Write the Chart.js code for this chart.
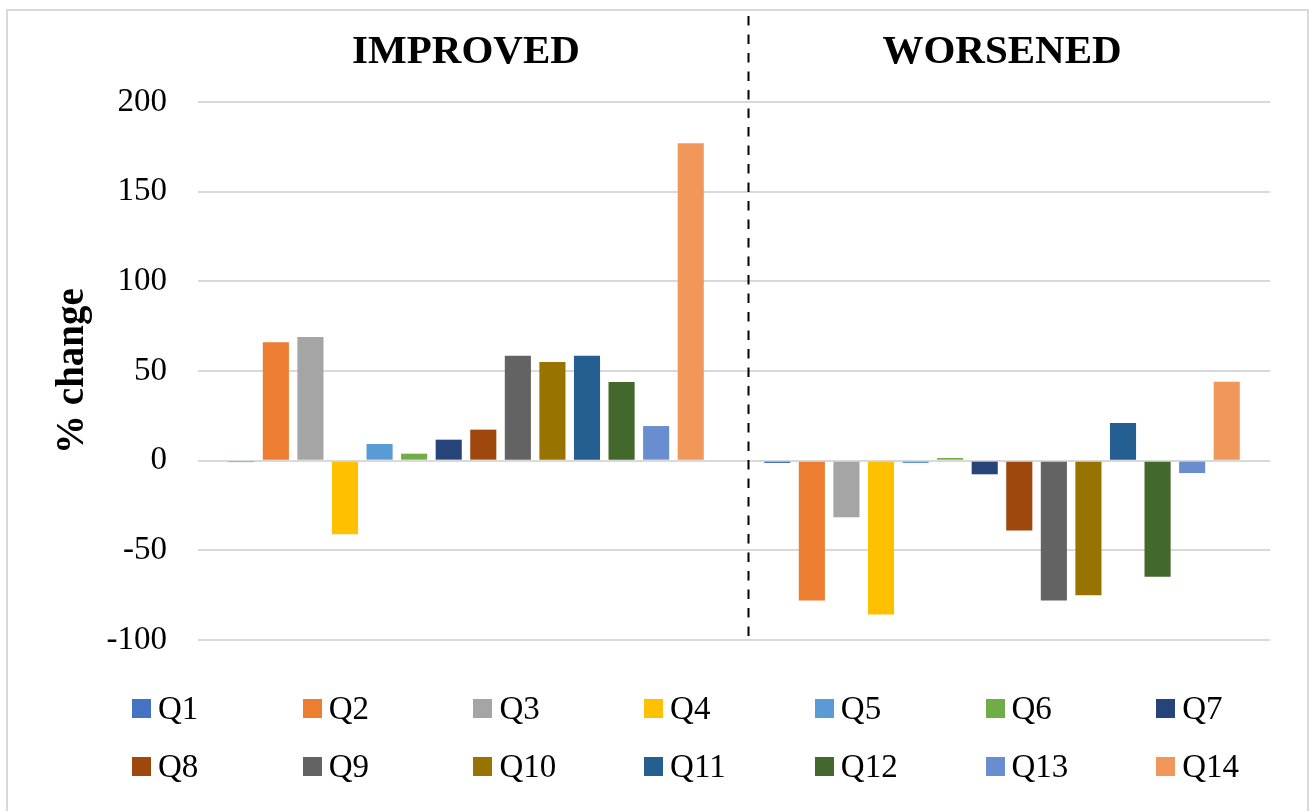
<!DOCTYPE html>
<html>
<head>
<meta charset="utf-8">
<script src="https://cdn.jsdelivr.net/npm/chart.js@4/dist/chart.umd.min.js"></script>
<style>
  html, body { margin: 0; padding: 0; background: #fff; }
  #wrap { position: relative; width: 1309px; height: 811px; overflow: hidden; }
  #frame { position: absolute; left: 6px; top: 9px; width: 1303px; height: 820px; box-sizing: border-box; border: 2px solid #d9d9d9; }
  canvas { position: absolute; left: 0; top: 0; }
  .lg { position: absolute; font-family: "Liberation Serif", "Times New Roman", serif; font-size: 33px; line-height: 33px; color: #000; white-space: nowrap; }
  .lg i { position: absolute; left: 0; width: 19px; height: 19px; }
  .lg span { position: absolute; left: 26px; top: 0; }
</style>
</head>
<body>
<div id="wrap">
  <div id="frame"></div>
  <canvas id="c" width="1309" height="811"></canvas>
  <div id="legend"></div>
</div>
<script>
const categories = ["IMPROVED", "WORSENED"];
const seriesNames = ["Q1","Q2","Q3","Q4","Q5","Q6","Q7","Q8","Q9","Q10","Q11","Q12","Q13","Q14"];
const improved = [-0.8, 66, 69, -41, 9.3, 3.9, 11.7, 17.3, 58.5, 55, 58.5, 43.9, 19.3, 177];
const worsened = [-1.3, -78, -31.6, -85.8, -1.3, 1.5, -7.6, -39, -78, -75, 21, -64.8, -6.9, 44];
const colors = ["#4472C4","#ED7D31","#A5A5A5","#FFC000","#5B9BD5","#70AD47","#264478","#9E480E","#636363","#997300","#255E91","#43682B","#698ED0","#F1975A"];
const yTicks = [-100, -50, 0, 50, 100, 150, 200];

const datasets = seriesNames.map((n, i) => ({
  label: n,
  data: [improved[i], worsened[i]],
  backgroundColor: colors[i],
  borderWidth: 0,
  categoryPercentage: 0.903,
  barPercentage: 0.755
}));

const dividerPlugin = {
  id: 'divider',
  afterDraw(chart) {
    const xs = chart.scales.x;
    const boundary = (xs.getPixelForTick(0) + xs.getPixelForTick(1)) / 2;
    const x = Math.round(boundary + 15) - 0.5;
    const ctx = chart.ctx;
    ctx.save();
    ctx.strokeStyle = '#000';
    ctx.lineWidth = 2;
    ctx.setLineDash([9.5, 9]);
    ctx.beginPath();
    ctx.moveTo(x, 16);
    ctx.lineTo(x, chart.chartArea.bottom - 4);
    ctx.stroke();
    ctx.restore();
  }
};

const serif = "'Liberation Serif', 'Times New Roman', serif";

new Chart(document.getElementById('c'), {
  type: 'bar',
  data: { labels: categories, datasets },
  plugins: [dividerPlugin],
  options: {
    responsive: false,
    devicePixelRatio: 1,
    animation: false,
    layout: { padding: { left: 0, right: 39, top: 0, bottom: 171 } },
    plugins: { legend: { display: false }, tooltip: { enabled: false } },
    scales: {
      x: {
        position: 'top',
        grid: { display: false, drawTicks: false },
        border: { display: false },
        ticks: { color: '#000', padding: 25, font: { family: serif, size: 41, weight: 'bold' } },
        afterFit(s) { s.height = 102; }
      },
      y: {
        min: -100, max: 200,
        afterBuildTicks(s) { s.ticks = yTicks.map(v => ({ value: v })); },
        grid: { color: '#d9d9d9', lineWidth: 2, drawTicks: false },
        border: { display: false },
        ticks: { color: '#000', padding: 31, font: { family: serif, size: 33 } },
        title: { display: true, text: '% change', color: '#000', padding: { top: 50, bottom: 0 }, font: { family: serif, size: 39, weight: 'bold' } },
        afterFit(s) { s.width = 198; }
      }
    }
  }
});

const legend = document.getElementById('legend');
seriesNames.forEach((n, i) => {
  const col = i % 7, row = Math.floor(i / 7);
  const d = document.createElement('div');
  d.className = 'lg';
  d.style.left = (132 + col * 170.7) + 'px';
  d.style.top = (692 + row * 58) + 'px';
  const box = document.createElement('i');
  box.style.background = colors[i];
  box.style.top = '7px';
  const t = document.createElement('span');
  t.textContent = n;
  d.appendChild(box); d.appendChild(t);
  legend.appendChild(d);
});
</script>
</body>
</html>
